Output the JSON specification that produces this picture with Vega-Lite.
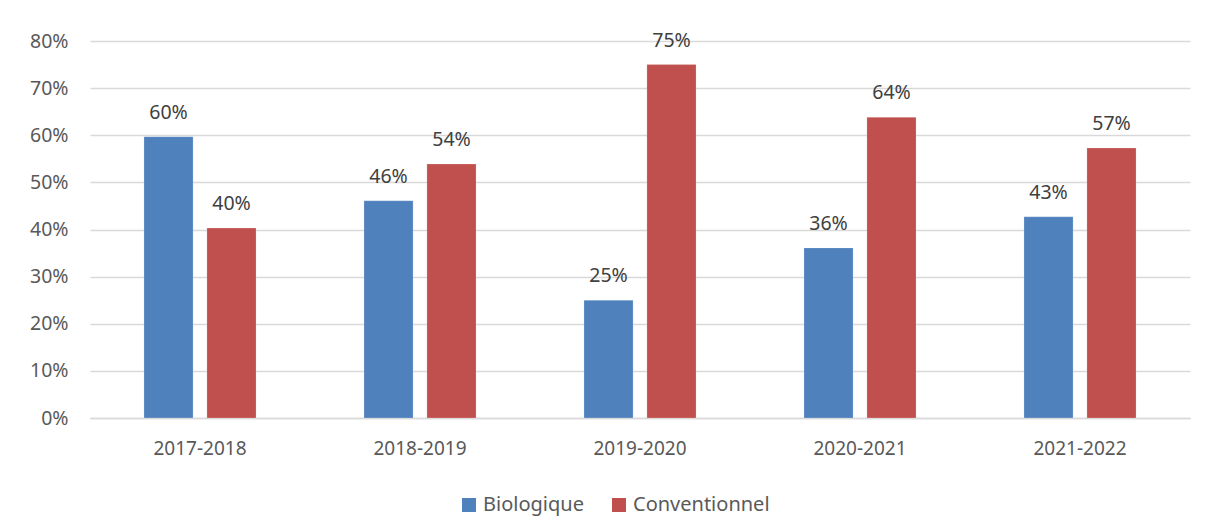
{
  "$schema": "https://vega.github.io/schema/vega-lite/v6.json",
  "width": 1100,
  "height": 377,
  "autosize": "none",
  "padding": {"left": 90, "top": 41, "right": 18, "bottom": 113},
  "background": "white",
  "config": {
    "view": {"stroke": null},
    "font": "Noto Sans"
  },
  "data": {
    "values": [
      {"annee": "2017-2018", "type": "Biologique", "part": 0.597},
      {"annee": "2017-2018", "type": "Conventionnel", "part": 0.403},
      {"annee": "2018-2019", "type": "Biologique", "part": 0.461},
      {"annee": "2018-2019", "type": "Conventionnel", "part": 0.539},
      {"annee": "2019-2020", "type": "Biologique", "part": 0.25},
      {"annee": "2019-2020", "type": "Conventionnel", "part": 0.75},
      {"annee": "2020-2021", "type": "Biologique", "part": 0.361},
      {"annee": "2020-2021", "type": "Conventionnel", "part": 0.638},
      {"annee": "2021-2022", "type": "Biologique", "part": 0.427},
      {"annee": "2021-2022", "type": "Conventionnel", "part": 0.573}
    ]
  },
  "encoding": {
    "x": {
      "field": "annee", "type": "nominal", "title": null,
      "scale": {"paddingInner": 0, "paddingOuter": 0},
      "axis": {
        "labelAngle": 0, "labelFontSize": 19, "labelColor": "#595959",
        "labelPadding": 21, "ticks": false, "domainColor": "#d9d9d9", "domainWidth": 1.3
      }
    },
    "xOffset": {
      "field": "type", "type": "nominal",
      "scale": {"paddingInner": 0.22, "paddingOuter": 0.857}
    },
    "y": {
      "field": "part", "type": "quantitative", "title": null,
      "scale": {"domain": [0, 0.8], "nice": false},
      "axis": {
        "values": [0, 0.1, 0.2, 0.3, 0.4, 0.5, 0.6, 0.7, 0.8],
        "format": ".0%", "labelFontSize": 19.5, "labelColor": "#595959",
        "labelPadding": 22, "ticks": false, "domain": false,
        "gridColor": "#d9d9d9", "gridWidth": 1.3
      }
    }
  },
  "layer": [
    {
      "mark": {"type": "bar", "stroke": "white", "strokeWidth": 0.5, "strokeOpacity": 0.4},
      "encoding": {
        "color": {
          "field": "type", "type": "nominal", "title": null,
          "scale": {"domain": ["Biologique", "Conventionnel"], "range": ["#4F81BD", "#C0504D"]},
          "legend": {
            "orient": "none", "direction": "horizontal",
            "legendX": 369, "legendY": 454,
            "symbolType": "square", "symbolSize": 196, "symbolStrokeWidth": 0,
            "labelFontSize": 20, "labelColor": "#595959", "labelOffset": 4,
            "columnPadding": 25
          }
        }
      }
    },
    {
      "mark": {"type": "text", "fontSize": 19.5, "color": "#404040", "baseline": "alphabetic", "dy": -18},
      "encoding": {
        "text": {"field": "part", "type": "quantitative", "format": ".0%"}
      }
    }
  ]
}
